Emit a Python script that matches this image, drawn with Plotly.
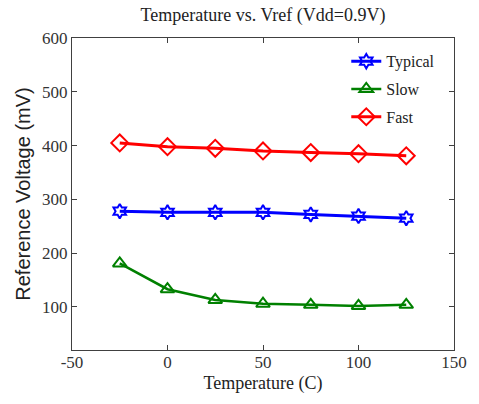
import plotly.graph_objects as go

temps = [-25, 0, 25, 50, 75, 100, 125]
typical = [278, 276, 276, 276, 272, 269, 265]
slow = [181, 133, 113, 106, 104, 102, 104]
fast = [405, 398, 395, 390, 387, 385, 381]

x_ticks = [-50, 0, 50, 100, 150]
y_ticks = [100, 200, 300, 400, 500, 600]

serif = "Liberation Serif"
sans = "Liberation Sans"

fig = go.Figure()
fig.add_trace(go.Scatter(x=temps, y=typical, name="Typical", mode="lines+markers",
                         legendgroup="a",
                         line=dict(color="#0000ff", width=3),
                         marker=dict(symbol="hexagram-open", size=11, color="#0000ff",
                                     line=dict(width=2, color="#0000ff"))))
fig.add_trace(go.Scatter(x=temps, y=slow, name="Slow", mode="lines+markers",
                         legendgroup="b",
                         line=dict(color="#008000", width=2.5),
                         marker=dict(symbol="triangle-up-open", size=12, color="#008000",
                                     line=dict(width=2, color="#008000"))))
fig.add_trace(go.Scatter(x=temps, y=fast, name="Fast", mode="lines+markers",
                         legendgroup="c",
                         line=dict(color="#ff0000", width=3),
                         marker=dict(symbol="diamond-open", size=13, color="#ff0000",
                                     line=dict(width=2, color="#ff0000"))))

axis_common = dict(showgrid=False, zeroline=False, showline=True, mirror="ticks",
                   linecolor="#404040", linewidth=1, ticks="inside", ticklen=5,
                   tickcolor="#404040",
                   tickfont=dict(family=serif, size=17, color="#333333"))

fig.update_layout(
    width=479, height=404,
    margin=dict(l=72, r=18, t=38, b=54),
    paper_bgcolor="white", plot_bgcolor="white",
    title=dict(text="Temperature vs. Vref (Vdd=0.9V)", x=0.5, xanchor="center",
               xref="paper", y=0.963, yanchor="middle",
               font=dict(family=serif, size=18, color="#222222")),
    xaxis=dict(range=[-50, 150], tickvals=x_ticks,
               ticktext=[str(v) for v in x_ticks], ticklabelstandoff=-3,
               title=dict(text="Temperature (C)", standoff=4,
                          font=dict(family=serif, size=18, color="#222222")),
               **axis_common),
    yaxis=dict(range=[20, 600], tickvals=y_ticks,
               ticktext=[str(v) for v in y_ticks],
               title=dict(text="Reference Voltage (mV)", standoff=6,
                          font=dict(family=sans, size=20, color="#222222")),
               **axis_common),
    legend=dict(x=0.718, y=0.98, xanchor="left", yanchor="top",
                bgcolor="rgba(0,0,0,0)", borderwidth=0,
                traceorder="grouped", tracegroupgap=4,
                font=dict(family=serif, size=16, color="#222222")),
)

fig.write_html("out.html")
